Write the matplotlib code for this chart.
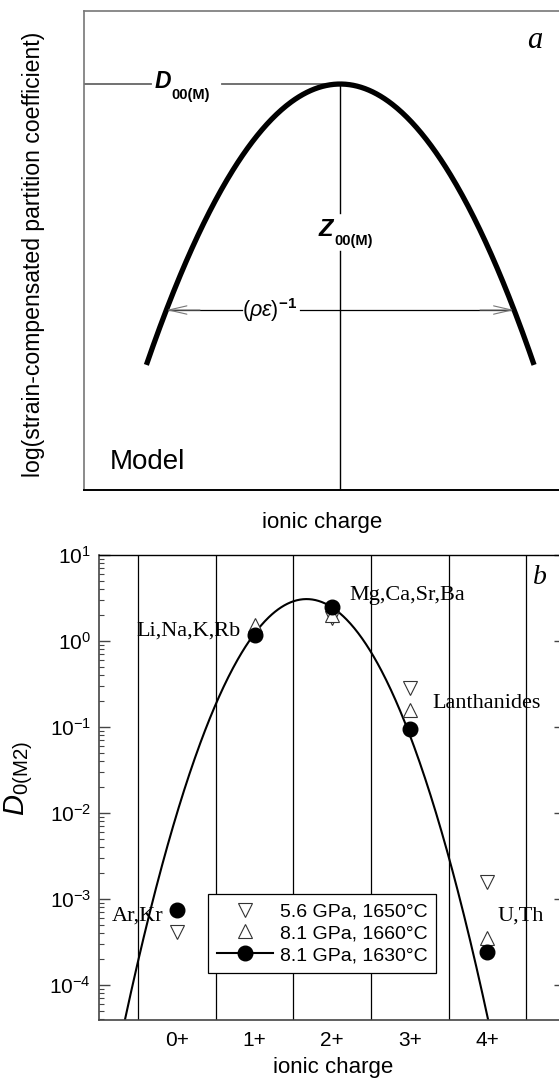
import numpy as np
import matplotlib
matplotlib.use('Agg')
import matplotlib.pyplot as plt
from matplotlib.lines import Line2D
from matplotlib.ticker import LogLocator, NullFormatter, LogFormatterSciNotation

plt.rcParams['font.family'] = ['Liberation Sans', 'DejaVu Sans']
plt.rcParams['mathtext.fontset'] = 'custom'
plt.rcParams['mathtext.rm'] = 'Liberation Sans'
plt.rcParams['mathtext.it'] = 'Liberation Sans:italic'
plt.rcParams['mathtext.bf'] = 'Liberation Sans:bold'

# ---------------- data ----------------
charges = [0, 1, 2, 3, 4]
charge_labels = ['0+', '1+', '2+', '3+', '4+']
d_56gpa_1650 = [4.1e-4, np.nan, 1.82, 0.28, 1.56e-3]
d_81gpa_1660 = [np.nan, 1.53, 2.0, 0.156, 3.5e-4]
d_81gpa_1630 = [7.4e-4, 1.16, 2.5, 0.094, 2.4e-4]
series_labels = ['5.6 GPa, 1650°C', '8.1 GPa, 1660°C', '8.1 GPa, 1630°C']
group_labels = ['Ar,Kr', 'Li,Na,K,Rb', 'Mg,Ca,Sr,Ba', 'Lanthanides', 'U,Th']
# lattice-strain fit (8.1 GPa, 1630°C): peak value, peak charge, curvature (decades / charge^2)
fit_D0 = 3.05
fit_Z0 = 1.67
fit_curv = 0.893
# schematic model (panel a, arbitrary units)
model_peak_x = 0.538
model_peak_y = 0.847
model_halfwidth = 0.4075
model_end_y = 0.261
model_arrow_y = 0.3755

W, H = 559, 1080
fig = plt.figure(figsize=(W / 100, H / 100), dpi=100)


def rect(l, t, r, b):
    return [l / W, 1 - b / H, (r - l) / W, (b - t) / H]


def px2x(px, l, r):
    return (px - l) / (r - l)

# ---------------- panel a ----------------
aL, aT, aR, aB = 84.3, 10.7, 560, 490
axa = fig.add_axes(rect(aL, aT, aR, aB))
axa.set_xlim(0, 1)
axa.set_ylim(0, 1)
axa.set_xticks([])
axa.set_yticks([])
for s in ['left', 'top']:
    axa.spines[s].set_color('#777777')
    axa.spines[s].set_linewidth(1.2)
axa.spines['bottom'].set_color('black')
axa.spines['bottom'].set_linewidth(1.4)
axa.spines['right'].set_visible(False)

xm = np.linspace(model_peak_x - model_halfwidth, model_peak_x + model_halfwidth, 400)
ym = model_peak_y - (model_peak_y - model_end_y) * ((xm - model_peak_x) / model_halfwidth) ** 2
axa.plot(xm, ym, color='black', lw=3.8, solid_capstyle='butt', zorder=3)

fx = lambda px: px2x(px, aL, aR)
fy = lambda py: 1 - (py - aT) / (aB - aT)

# D00(M) horizontal line (broken around label)
axa.plot([0, fx(150.7)], [model_peak_y] * 2, color='#666666', lw=1.3)
axa.plot([fx(221.7), model_peak_x], [model_peak_y] * 2, color='#666666', lw=1.3)
axa.text(fx(155), fy(87.5), 'D', fontsize=16.5, fontweight='bold', fontstyle='italic', ha='left', va='baseline')
axa.text(fx(171.7), fy(99), '00(M)', fontsize=10.5, fontweight='bold', ha='left', va='baseline')

# Z00(M) vertical line (broken around label)
axa.plot([model_peak_x] * 2, [model_peak_y, fy(213)], color='black', lw=1.0)
axa.plot([model_peak_x] * 2, [fy(251), 0], color='black', lw=1.0)
axa.text(fx(318.5), fy(235.5), 'Z', fontsize=17, fontweight='bold', fontstyle='italic', ha='left', va='baseline')
axa.text(fx(334.6), fy(245.5), '00(M)', fontsize=10.5, fontweight='bold', ha='left', va='baseline')

# (rho eps)^-1 arrow
dx = model_halfwidth * np.sqrt((model_peak_y - model_arrow_y) / (model_peak_y - model_end_y))
xl, xr = model_peak_x - dx, model_peak_x + dx
axa.plot([xl, fx(242)], [model_arrow_y] * 2, color='black', lw=0.9)
axa.plot([fx(300), xr], [model_arrow_y] * 2, color='black', lw=0.9)
for xa, xb in [(fx(200), xl), (fx(480), xr)]:
    axa.annotate('', xy=(xb, model_arrow_y), xytext=(xa, model_arrow_y),
                 arrowprops=dict(arrowstyle='->,head_length=1.3,head_width=0.3',
                                 color='#777777', lw=0.8, shrinkA=0, shrinkB=0))
axa.text(fx(270), model_arrow_y, r'$(\rho\varepsilon)^{\mathbf{-1}}$', fontsize=15.5,
         ha='center', va='center')
axa.text(fx(110), fy(469), 'Model', fontsize=20, ha='left', va='baseline')
axa.text(fx(535), fy(40), 'a', fontsize=22, family='Liberation Serif', fontstyle='italic',
         ha='center', va='center')

fig.text(322 / W, 1 - 522 / H, 'ionic charge', fontsize=16, ha='center', va='center')
fig.text(34 / W, 1 - 254 / H, 'log(strain-compensated partition coefficient)', fontsize=16.6,
         rotation=90, ha='center', va='center')

# ---------------- panel b ----------------
bL, bT, bR, bB = 99.3, 554.7, 565, 1020
axb = fig.add_axes(rect(bL, bT, bR, bB))
axb.set_yscale('log')
axb.set_xlim(-1, 5)
axb.set_ylim(3.92e-5, 10)
for s in ['left', 'bottom']:
    axb.spines[s].set_color('#444444')
    axb.spines[s].set_linewidth(1.2)
axb.spines['top'].set_color('black')
axb.spines['top'].set_linewidth(1.0)
axb.spines['right'].set_color('black')

for g in np.arange(-0.5, 5.0, 1.0):
    axb.axvline(g, color='black', lw=0.9, zorder=1)

axb.set_xticks(charges)
axb.set_xticklabels(charge_labels, fontsize=15)
axb.tick_params(axis='x', length=0, pad=8)
axb.yaxis.set_major_locator(LogLocator(base=10, numticks=10))
axb.yaxis.set_minor_locator(LogLocator(base=10, subs=np.arange(2, 10), numticks=20))
axb.yaxis.set_minor_formatter(NullFormatter())
axb.yaxis.set_major_formatter(LogFormatterSciNotation())
axb.tick_params(axis='y', which='major', direction='in', length=8, width=1.0, right=True,
                labelsize=15, pad=6, color='#444444')
axb.tick_params(axis='y', which='minor', direction='in', length=3.5, width=0.8, right=True,
                color='#444444')

zf = np.linspace(-1, 5, 600)
df = fit_D0 * 10 ** (-fit_curv * (zf - fit_Z0) ** 2)
axb.plot(zf, df, color='black', lw=1.5, zorder=2)

tri = dict(ls='none', ms=10, mfc='white', mec='#333333', mew=0.8)
axb.plot(charges, d_56gpa_1650, marker='v', zorder=3, **tri)
axb.plot(charges, d_81gpa_1660, marker='^', zorder=3, **tri)
axb.plot(charges, d_81gpa_1630, marker='o', ls='none', ms=10.5, color='black', zorder=4)

serif = dict(family='Liberation Serif', fontsize=16)
axb.text(-0.837, 6.38e-4, group_labels[0], ha='left', va='center', **serif)
axb.text(0.817, 1.31, group_labels[1], ha='right', va='center', **serif)
axb.text(2.228, 3.33, group_labels[2], ha='left', va='center', **serif)
axb.text(3.29, 0.185, group_labels[3], ha='left', va='center', **serif)
axb.text(4.124, 6.38e-4, group_labels[4], ha='left', va='center', **serif)
axb.text((540 - bL) / (bR - bL), 1 - (578 - bT) / (bB - bT), 'b', transform=axb.transAxes,
         family='Liberation Serif', fontstyle='italic', fontsize=20, ha='center', va='center')

handles = [
    Line2D([], [], marker='v', **tri),
    Line2D([], [], marker='^', **tri),
    Line2D([], [], marker='o', color='black', ms=10.5, lw=1.5),
]
leg = axb.legend(handles, series_labels, loc='upper left',
                 bbox_to_anchor=((208 - bL) / (bR - bL), (bB - 894) / (bB - bT)),
                 borderaxespad=0, fontsize=14, frameon=True, fancybox=False,
                 edgecolor='black', framealpha=1, handlelength=2.9, handletextpad=0.35,
                 labelspacing=0.22, borderpad=0.45)
leg.get_frame().set_linewidth(0.9)

fig.text(333 / W, 1 - 1068 / H, 'ionic charge', fontsize=16, ha='center', va='center')
fig.text(19 / W, 1 - 779 / H, r'$D_{\mathrm{0(M2)}}$', fontsize=21, rotation=90,
         ha='center', va='center')

fig.savefig('out.png', dpi=100)
